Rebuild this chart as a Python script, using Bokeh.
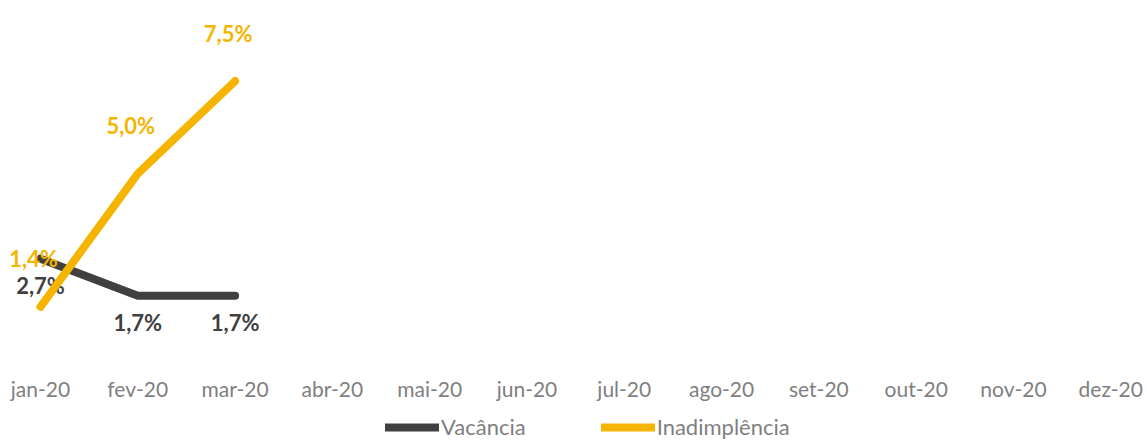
from bokeh.plotting import figure
from bokeh.layouts import column
from bokeh.models import ColumnDataSource, FixedTicker, Legend, LegendItem, Range1d
from bokeh.core.properties import value
from bokeh.embed import file_html
from bokeh.resources import INLINE

months = ["jan-20", "fev-20", "mar-20", "abr-20", "mai-20", "jun-20",
          "jul-20", "ago-20", "set-20", "out-20", "nov-20", "dez-20"]
vacancia = [2.7, 1.7, 1.7]
inadimplencia = [1.4, 5.0, 7.5]
series_names = ["Vacância", "Inadimplência"]

GRAY = "#404040"
GOLD = "#F5B400"
LABEL_GRAY = "#7F7F7F"
FONT = "Lato"


def fmt(v):
    return f"{v:.1f}%".replace(".", ",")


src_v = ColumnDataSource(dict(x=list(range(len(vacancia))), y=vacancia,
                              t=[fmt(v) for v in vacancia]))
src_i = ColumnDataSource(dict(x=list(range(len(inadimplencia))), y=inadimplencia,
                              t=[fmt(v) for v in inadimplencia]))

W = 1146
p = figure(width=W, height=408, output_backend="svg", toolbar_location=None,
           x_range=Range1d(-0.411, 11.367), y_range=Range1d(-0.32, 9.46),
           min_border_left=0, min_border_right=0, min_border_top=8, min_border_bottom=38)
p.outline_line_color = None
p.grid.visible = False
p.yaxis.visible = False

ax = p.xaxis[0]
ax.ticker = FixedTicker(ticks=list(range(len(months))))
ax.major_label_overrides = {i: m for i, m in enumerate(months)}
ax.axis_line_color = None
ax.major_tick_line_color = None
ax.minor_tick_line_color = None
ax.major_tick_out = 0
ax.major_tick_in = 0
ax.major_label_text_font = FONT
ax.major_label_text_font_size = "21px"
ax.major_label_text_color = LABEL_GRAY
ax.major_label_standoff = 5

p.line("x", "y", source=src_v, line_color=GRAY, line_width=8, line_cap="round", line_join="round")
p.text("x", "y", text="t", source=src_v, text_color=GRAY, text_font=value(FONT),
       text_font_style="bold", text_font_size="22px", text_align="center",
       text_baseline="middle", y_offset=27)
p.line("x", "y", source=src_i, line_color=GOLD, line_width=8, line_cap="round", line_join="round")
p.text("x", "y", text="t", source=src_i, text_color=GOLD, text_font=value(FONT),
       text_font_style="bold", text_font_size="22px", text_align="center",
       text_baseline="middle", y_offset=-48, x_offset=-7)

# legend strip under the chart (its lines reuse the data but sit outside the visible range)
p2 = figure(width=W, height=32, output_backend="svg", toolbar_location=None,
            x_range=Range1d(0, 1), y_range=Range1d(100, 101),
            min_border_left=0, min_border_right=0, min_border_top=0, min_border_bottom=0)
p2.outline_line_color = None
p2.grid.visible = False
p2.axis.visible = False
lv = p2.line("x", "y", source=src_v, line_color=GRAY, line_width=8, line_cap="round")
li = p2.line("x", "y", source=src_i, line_color=GOLD, line_width=8, line_cap="round")
legend = Legend(items=[LegendItem(label=series_names[0], renderers=[lv]),
                       LegendItem(label=series_names[1], renderers=[li])],
                orientation="horizontal", location=(385, 0),
                label_text_font=FONT, label_text_font_size="22px",
                label_text_color=LABEL_GRAY, glyph_width=54, glyph_height=22,
                label_standoff=2, spacing=75, padding=0, margin=0,
                border_line_color=None, background_fill_alpha=0)
p2.add_layout(legend)

layout = column(p, p2, spacing=0)
open("out.html", "w").write(file_html(layout, INLINE))
